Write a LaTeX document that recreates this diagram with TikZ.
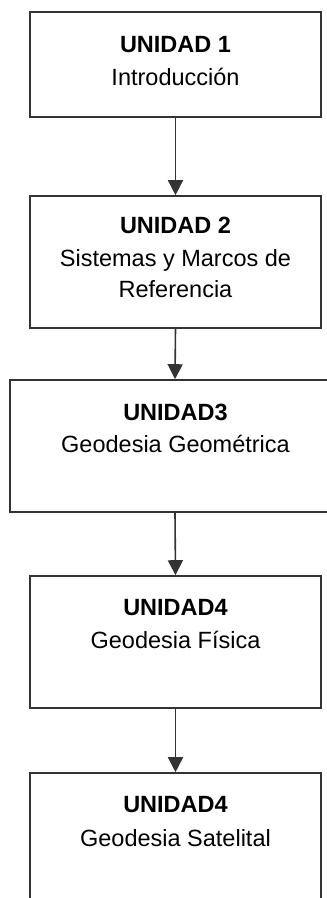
\documentclass[tikz,border=0pt]{standalone}
\usepackage{fontspec}
\setmainfont{Liberation Sans}
\usetikzlibrary{arrows.meta}
\begin{document}
\begin{tikzpicture}[x=1pt,y=1pt,
  boxst/.style={draw=black!80, line width=1.6pt, rectangle, inner sep=0pt},
  ttl/.style={anchor=base, inner sep=0pt, font=\fontsize{23.5}{28}\selectfont\bfseries},
  txt/.style={anchor=base, inner sep=0pt, font=\fontsize{23.5}{28}\selectfont},
  conn/.style={draw=black!80, line width=1.6pt, -{Triangle[length=15pt,width=15pt]}}]
\useasboundingbox (0,0) rectangle (327,-898);
\begin{scope}
\clip (0,0) rectangle (327,-898);
\node[boxst, minimum width=291pt, minimum height=105pt] (b1) at (175.5,-64.5) {};
\node[boxst, minimum width=291pt, minimum height=132pt] (b2) at (175.5,-262) {};
\node[boxst, minimum width=330pt, minimum height=132pt] (b3) at (175,-446) {};
\node[boxst, minimum width=291pt, minimum height=132pt] (b4) at (175.5,-642) {};
\node[boxst, minimum width=291pt, minimum height=160pt] (b5) at (175.5,-853) {};
\end{scope}
\node[ttl] (t1) at (175.5,-52) {UNIDAD 1};
\node[txt] (s1) at (175.5,-85) {Introducción};
\node[ttl] (t2) at (175.5,-233) {UNIDAD 2};
\node[txt] (s2) at (175.5,-266) {Sistemas y Marcos de};
\node[txt] (s2b) at (175.5,-297) {Referencia};
\node[ttl] (t3) at (175.5,-420) {UNIDAD3};
\node[txt] (s3) at (175.5,-452) {Geodesia Geométrica};
\node[ttl] (t4) at (175.5,-615) {UNIDAD4};
\node[txt] (s4) at (175.5,-648) {Geodesia Física};
\node[ttl] (t5) at (175.5,-812) {UNIDAD4};
\node[txt] (s5) at (175.5,-846) {Geodesia Satelital};
\draw[conn] (b1.south) -- (b2.north);
\draw[conn] (b2.south) -- (b3.north);
\draw[conn] (b3.south) -- (b4.north);
\draw[conn] (b4.south) -- (b5.north);
\end{tikzpicture}
\end{document}
